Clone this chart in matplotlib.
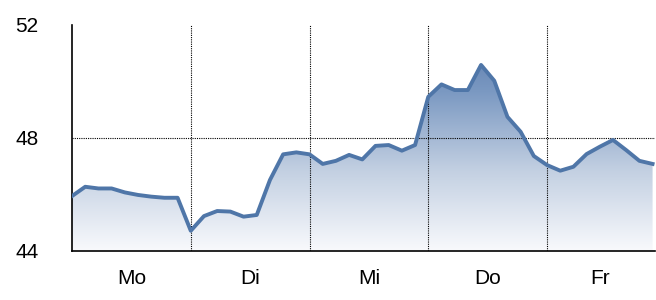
import numpy as np
import matplotlib
matplotlib.use('Agg')
import matplotlib.pyplot as plt
from matplotlib.colors import LinearSegmentedColormap

days = ['Mo', 'Di', 'Mi', 'Do', 'Fr']
day_label_pos = [4.5, 13.5, 22.5, 31.5, 40.0]
day_breaks = [9, 18, 27, 36]

values = [45.93, 46.26, 46.20, 46.20, 46.06, 45.97, 45.91, 45.87, 45.87,
          44.70, 45.22, 45.40, 45.38, 45.20, 45.26, 46.50, 47.41, 47.48,
          47.41, 47.07, 47.18, 47.39, 47.23, 47.71, 47.74, 47.54, 47.74,
          49.45, 49.89, 49.69, 49.69, 50.58, 50.02, 48.74, 48.21, 47.35,
          47.03, 46.83, 46.97, 47.42, 47.68, 47.92, 47.56, 47.18, 47.07]
yticks = [44, 48, 52]

plt.rcParams['font.family'] = ['Liberation Sans', 'DejaVu Sans']

fig = plt.figure(figsize=(6.56, 3.0), dpi=100)
ax = fig.add_axes([0.1098, 0.165, 0.889, 0.752])

x = np.arange(len(values))
xmax = 44.2
ymin, ymax = 44, 52

# gradient fill under the curve
cmap = LinearSegmentedColormap.from_list(
    'g', [(0, '#f8f9fc'), (0.35, '#c3d0e2'), (0.7, '#7b99c2'), (1, '#5374a6')])
grad = np.linspace(0, 1, 256).reshape(-1, 1)
im = ax.imshow(grad, cmap=cmap, aspect='auto', origin='lower',
               extent=[0, xmax, ymin, ymax], zorder=1)
poly = ax.fill_between(x, values, ymin, color='none')
clip = poly.get_paths()[0]
im.set_clip_path(clip, transform=ax.transData)

ax.plot(x, values, color='#4f76a8', linewidth=2.8, zorder=3,
        solid_joinstyle='round')

for b in day_breaks:
    ax.axvline(b, color='black', linestyle=(0, (1, 1)), linewidth=0.8, zorder=2)
ax.axhline(48, color='black', linestyle=(0, (1, 1)), linewidth=0.8, zorder=2)

ax.set_xlim(0, xmax)
ax.set_ylim(ymin, ymax)
ax.set_yticks(yticks)
ax.set_yticklabels([str(t) for t in yticks], fontsize=15)
ax.set_xticks(day_label_pos)
ax.set_xticklabels(days, fontsize=15)
ax.tick_params(length=0)
ax.tick_params(axis='y', pad=24)
ax.tick_params(axis='x', pad=13)

for s in ['top', 'right']:
    ax.spines[s].set_visible(False)
ax.spines['left'].set_linewidth(1.2)
ax.spines['bottom'].set_linewidth(1.2)

fig.savefig('out.png', dpi=100)
